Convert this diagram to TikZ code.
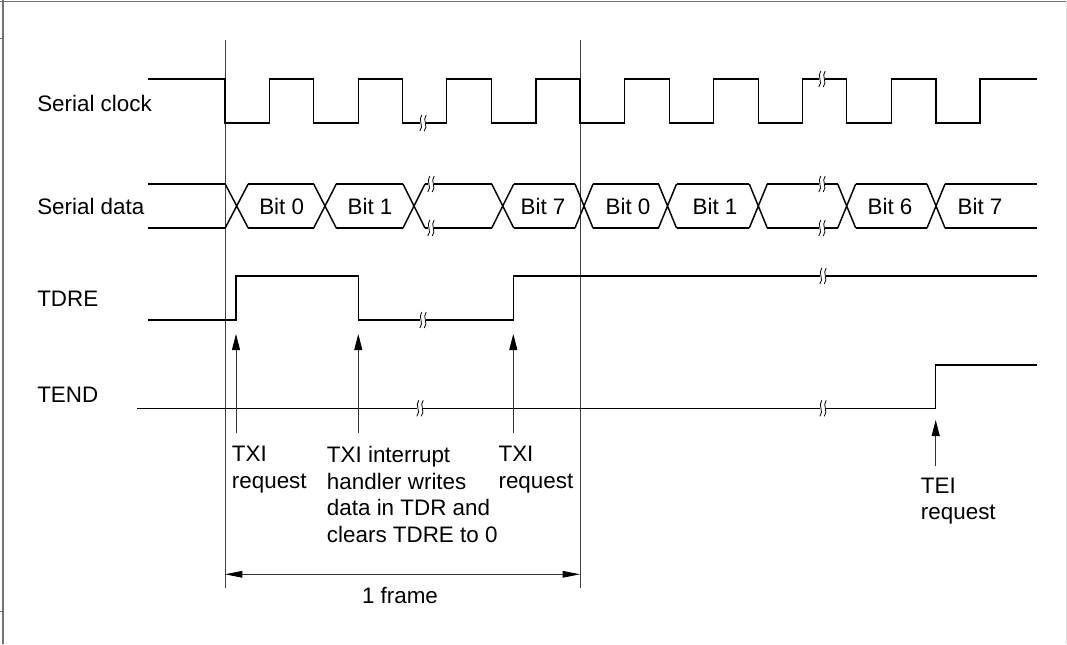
\documentclass[tikz,border=0pt]{standalone}
\usepackage{fontspec}
\setmainfont{Liberation Sans}
\usetikzlibrary{arrows.meta}
\begin{document}
\begin{tikzpicture}[x=0.75pt,y=-0.75pt,
  sig/.style={line width=1.1pt,black},
  guide/.style={line width=0.6pt,black!75},
  reqarrow/.style={line width=0.6pt,black!80,-{Triangle[length=12pt,width=6pt,color=black,fill=black]}},
  dimarrow/.style={line width=0.6pt,black!80,{Triangle[length=13pt,width=5pt,color=black,fill=black]}-{Triangle[length=13pt,width=5pt,color=black,fill=black]}},
  lbl/.style={font=\fontsize{16.8}{20}\selectfont,inner sep=0pt},
  brk/.pic={
    \fill[white] (-2.6,-6) rectangle (2.6,6);
    \draw[line width=0.6pt] (-1.2,-8) .. controls (-5.5,-3) and (1.5,3) .. (-3.2,8);
    \draw[line width=0.6pt] (3.2,-8) .. controls (-1.1,-3) and (5.9,3) .. (1.2,8);
  }]
\useasboundingbox (0,0) rectangle (1067,644);
% outer frame
\draw[line width=0.8pt,black!55] (0,1.5) -- (1067,1.5);
\draw[line width=0.8pt,black!55] (3,0) -- (3,644);
\draw[line width=0.6pt,black!12] (1066,0) -- (1066,644);
\draw[line width=0.6pt,black!55] (0,38) -- (3,38) (0,611) -- (3,611);

% frame guide lines
\coordinate (g1t) at (225,40);
\coordinate (g1b) at (225,588);
\coordinate (g2t) at (580,40);
\coordinate (g2b) at (580,588);
\draw[guide] (g1t) -- (g1b);
\draw[guide] (g2t) -- (g2b);

% signal names
\node[lbl,anchor=base west] (nclk) at (37,111) {Serial clock};
\node[lbl,anchor=base west] (ndat) at (37,214) {Serial data};
\node[lbl,anchor=base west] (ntdre) at (37,306) {TDRE};
\node[lbl,anchor=base west] (ntend) at (37,402) {TEND};

% serial clock
\draw[sig] (148,79) -- (225,79) -- (225,123) -- (269.3,123) -- (269.3,79) -- (313.3,79)
  -- (313.3,123) -- (358.3,123) -- (358.3,79) -- (402.7,79) -- (402.7,123) -- (446.7,123)
  -- (446.7,79) -- (491.7,79) -- (491.7,123) -- (536,123) -- (536,79) -- (580,79)
  -- (580,123) -- (624.3,123) -- (624.3,79) -- (669.3,79) -- (669.3,123) -- (713.3,123)
  -- (713.3,79) -- (758.3,79) -- (758.3,123) -- (802.7,123) -- (802.7,79) -- (846.7,79)
  -- (846.7,123) -- (891.7,123) -- (891.7,79) -- (936,79) -- (936,123) -- (980,123)
  -- (980,79) -- (1036.7,79);
\pic at (423,123) {brk};
\pic at (822,79) {brk};

% serial data
\foreach \c/\h in {236.7/11.5,325/11.3,414/11,502.7/11,584/9,667.5/9,758.3/9,846.7/9,936/9}{
  \draw[sig] (\c-\h,184) -- (\c+\h,228) (\c-\h,228) -- (\c+\h,184);
}
\foreach \a/\b in {148/225.2,248.2/313.7,336.3/403,425/491.7,513.7/575,593/658.5,676.5/749.3,767.3/837.7,855.7/927,945/1036.7}{
  \draw[sig] (\a,184) -- (\b,184) (\a,228) -- (\b,228);
}
\pic at (431,184) {brk};
\pic at (431,228) {brk};
\pic at (822,184) {brk};
\pic at (822,228) {brk};
\node[lbl,anchor=base] (b0a) at (281.7,214.5) {Bit 0};
\node[lbl,anchor=base] (b1a) at (370,214.5) {Bit 1};
\node[lbl,anchor=base] (b7a) at (543,214.5) {Bit 7};
\node[lbl,anchor=base] (b0b) at (628,214.5) {Bit 0};
\node[lbl,anchor=base] (b1b) at (715,214.5) {Bit 1};
\node[lbl,anchor=base] (b6b) at (890,214.5) {Bit 6};
\node[lbl,anchor=base] (b7b) at (980,214.5) {Bit 7};

% TDRE
\draw[sig] (148,320) -- (236,320) -- (236,276) -- (358.3,276) -- (358.3,320)
  -- (513.3,320) -- (513.3,276) -- (1036.7,276);
\pic at (423,320) {brk};
\pic at (823,276) {brk};

% TEND
\draw[sig] (137,408.3) -- (935.7,408.3) -- (935.7,365) -- (1036.7,365);
\pic at (420,408.3) {brk};
\pic at (823,408.3) {brk};

% request arrows
\coordinate (r1s) at (236,433.3);   \coordinate (r1e) at (236,334);
\coordinate (r2s) at (358.3,433.3); \coordinate (r2e) at (358.3,334);
\coordinate (r3s) at (513.3,433.3); \coordinate (r3e) at (513.3,334);
\coordinate (r4s) at (935.7,465.7); \coordinate (r4e) at (935.7,420);
\draw[reqarrow] (r1s) -- (r1e);
\draw[reqarrow] (r2s) -- (r2e);
\draw[reqarrow] (r3s) -- (r3e);
\draw[reqarrow] (r4s) -- (r4e);

% request labels
\node[lbl,anchor=north west,align=left] (t1) at (231.7,446) {TXI\\request};
\node[lbl,anchor=north west,align=left] (t2) at (326.7,446) {TXI interrupt\\handler writes\\data in TDR and\\clears TDRE to 0};
\node[lbl,anchor=north west,align=left] (t3) at (498.3,446) {TXI\\request};
\node[lbl,anchor=north west,align=left] (t4) at (920.7,477.5) {TEI\\request};

% one frame dimension
\coordinate (d1) at (225,574.3);
\coordinate (d2) at (580,574.3);
\draw[dimarrow] (d1) -- (d2);
\node[lbl,anchor=base] (fr) at (400,603.3) {1 frame};
\end{tikzpicture}
\end{document}
